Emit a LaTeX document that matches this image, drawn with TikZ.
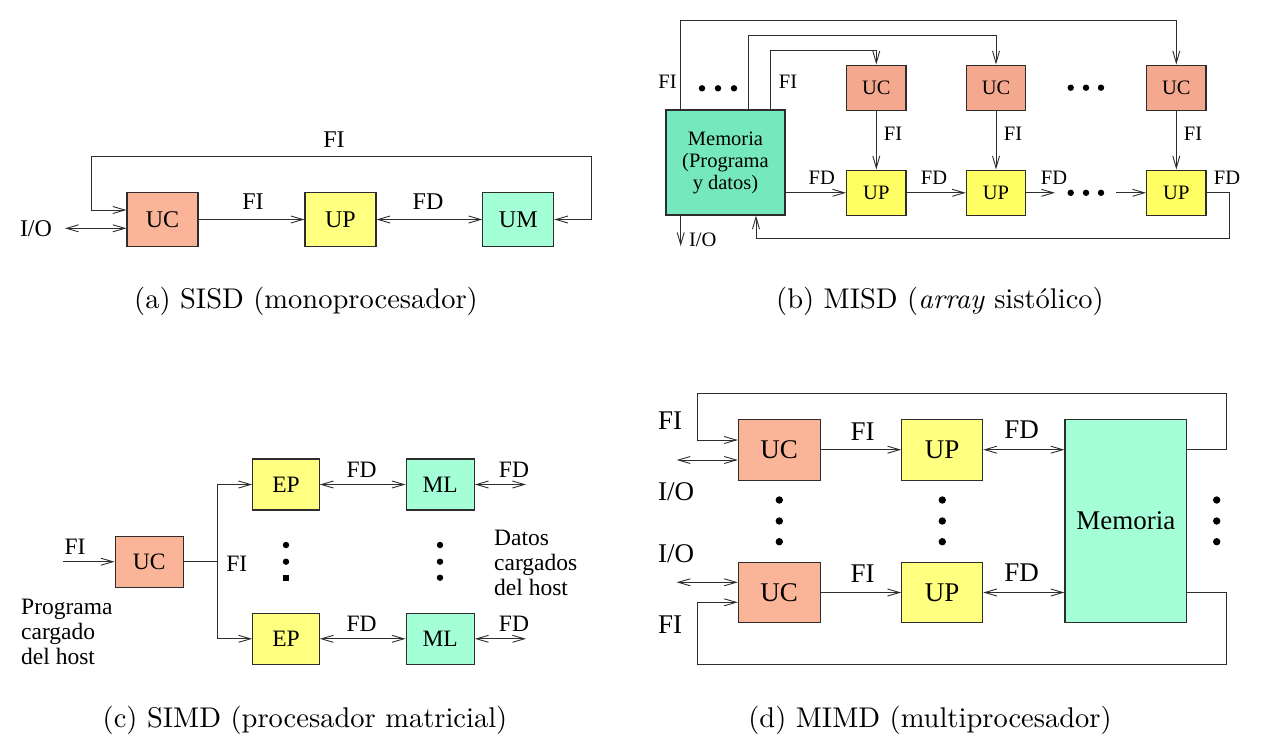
\documentclass[tikz,border=0pt]{standalone}
\usepackage{fontspec}
\newfontfamily\tms{Liberation Serif}
\newfontfamily\capfont{lmroman10-regular.otf}[ItalicFont=lmroman10-italic.otf]
\usetikzlibrary{arrows.meta}
\definecolor{inkc}{RGB}{45,45,45}
\definecolor{ucc}{RGB}{250,180,152}
\definecolor{upc}{RGB}{255,255,128}
\definecolor{umc}{RGB}{165,255,214}
\definecolor{ucb}{RGB}{244,168,142}
\definecolor{upb}{RGB}{255,255,100}
\definecolor{memb}{RGB}{118,232,190}
\begin{document}
\begin{tikzpicture}[x=1pt,y=-1pt,
  blk/.style={draw=inkc,line width=1.1pt,inner sep=0pt},
  fa/.style={font=\tms\fontsize{24}{28}\selectfont},
  fb/.style={font=\tms\fontsize{20.5}{22}\selectfont},
  fc/.style={font=\tms\fontsize{23.5}{25}\selectfont},
  fd/.style={font=\tms\fontsize{27}{30}\selectfont},
  lbl/.style={inner sep=0pt},
  wire/.style={draw=inkc,line width=0.9pt},
  arr/.style={wire,-{Straight Barb[length=12pt,width=7pt]}},
  darr/.style={wire,{Straight Barb[length=12pt,width=7pt]}-{Straight Barb[length=12pt,width=7pt]}},
  dot/.style={fill=black},
  captext/.style={inner sep=0pt,font=\capfont\fontsize{28.5}{32}\selectfont}]
\useasboundingbox[fill=white] (0,0) rectangle (1269,740);

% ---------------- (a) SISD ----------------
\begin{scope}[every node/.append style={fa}]
\node[blk,fill=ucc,minimum width=71pt,minimum height=54pt] (ucA) at (162.5,219.5) {UC};
\node[blk,fill=upc,minimum width=71pt,minimum height=54pt] (upA) at (340.5,219.5) {UP};
\node[blk,fill=umc,minimum width=71pt,minimum height=54pt] (umA) at (518.3,219.5) {UM};
\coordinate (rA) at (591,156.7);
\coordinate (lA) at (91,156.7);
\coordinate (ioA) at (65,228.3);
\draw[arr] (ucA) -- (upA);
\draw[darr] (upA) -- (umA);
\draw[darr] (umA.east) -| (rA) -- (lA) |- ([yshift=9.5pt]ucA.west);
\draw[darr] (ioA) -- (ioA -| ucA.west);
\node[lbl] (aFI1) at (334,140) {FI};
\node[lbl] (aFI2) at (253,201.7) {FI};
\node[lbl] (aFD) at (428,201.7) {FD};
\node[lbl] (aIO) at (36,228.3) {I/O};
\end{scope}
\node[captext] (capA) at (306,301) {(a) SISD (monoprocesador)};

% ---------------- (b) MISD ----------------
\begin{scope}[every node/.append style={fb}]
\node[blk,fill=memb,minimum width=119pt,minimum height=105pt,align=center] (memB) at (725.5,162.5) {Memoria\\(Programa\\y datos)};
\foreach \i/\x in {1/876.3,2/996,3/1176.3}{
  \node[blk,fill=ucb,minimum width=59.3pt,minimum height=45.5pt] (ucB\i) at (\x,87.8) {UC};
  \node[blk,fill=upb,minimum width=59.3pt,minimum height=45.5pt] (upB\i) at (\x,192.8) {UP};
  \draw[arr] (ucB\i) -- (upB\i);
}
\coordinate (o1) at (680.7,20);
\coordinate (o2) at (748.3,35);
\coordinate (o3) at (770,50.7);
\draw[arr] (o1 |- memB.north) -- (o1) -| (ucB3.north);
\draw[arr] (o2 |- memB.north) -- (o2) -| (ucB2.north);
\draw[arr] (o3 |- memB.north) -- (o3) -| (ucB1.north);
\draw[arr] (memB.east |- upB1.west) -- (upB1.west);
\draw[arr] (upB1) -- (upB2);
\coordinate (dB1) at (1055,192.8);
\coordinate (dB2) at (1116,192.8);
\draw[arr] (upB2) -- (dB1);
\draw[arr] (dB2) -- (upB3);
\coordinate (fbB) at (1229.3,238.3);
\coordinate (fmB) at (756,238.3);
\draw[arr] (upB3.east) -| (fbB) -- (fmB) -- (fmB |- memB.south);
\coordinate (ioB) at (680.7,246);
\draw[arr] (ioB |- memB.south) -- (ioB);
\foreach \x in {702,718,734} \fill[dot] (\x,88.3) circle (3.2pt);
\foreach \x in {1070.7,1086,1101} \fill[dot] (\x,87.7) circle (3.2pt);
\foreach \x in {1070.7,1086,1101} \fill[dot] (\x,192.8) circle (3.2pt);
\node[lbl] (bFIl) at (667.5,81.7) {FI};
\node[lbl] (bFIr) at (788,81.7) {FI};
\node[lbl] (bFI1) at (893,133.3) {FI};
\node[lbl] (bFI2) at (1013,133.3) {FI};
\node[lbl] (bFI3) at (1193,133.3) {FI};
\node[lbl] (bFD0) at (821.7,178.3) {FD};
\node[lbl] (bFD1) at (934,178.3) {FD};
\node[lbl] (bFD2) at (1054,178.3) {FD};
\node[lbl] (bFD3) at (1227,178.3) {FD};
\node[lbl] (bIO) at (702.7,240) {I/O};
\end{scope}
\node[captext] (capB) at (940,301) {(b) MISD (\textit{array} sistólico)};

% ---------------- (c) SIMD ----------------
\begin{scope}[every node/.append style={fc}]
\node[blk,fill=ucc,minimum width=68.3pt,minimum height=51.3pt] (ucC) at (149.2,561.7) {UC};
\node[blk,fill=upc,minimum width=66.6pt,minimum height=51pt] (epC1) at (286,484.5) {EP};
\node[blk,fill=upc,minimum width=66.6pt,minimum height=51pt] (epC2) at (286,638.8) {EP};
\node[blk,fill=umc,minimum width=68.3pt,minimum height=51pt] (mlC1) at (440.2,484.5) {ML};
\node[blk,fill=umc,minimum width=68.3pt,minimum height=51pt] (mlC2) at (440.2,638.8) {ML};
\coordinate (inC) at (63.3,561.7);
\coordinate (brC) at (217.3,561.7);
\coordinate (oC1) at (526,484.5);
\coordinate (oC2) at (526,638.8);
\draw[arr] (inC) -- (ucC);
\draw[wire] (ucC) -- (brC);
\draw[arr] (brC) |- (epC1);
\draw[arr] (brC) |- (epC2);
\draw[darr] (epC1) -- (mlC1);
\draw[darr] (epC2) -- (mlC2);
\draw[darr] (mlC1) -- (oC1);
\draw[darr] (mlC2) -- (oC2);
\foreach \y in {545,561.7} {\fill[dot] (286,\y) circle (3.2pt);}
\fill[dot] (283,574.7) rectangle (289,580.7);
\foreach \y in {545,561.7,577.7} {\fill[dot] (440,\y) circle (3.2pt);}
\node[lbl] (cFI0) at (75,546.7) {FI};
\node[lbl] (cFI1) at (236.7,563.3) {FI};
\node[lbl] (cFD1) at (361.7,470) {FD};
\node[lbl] (cFD2) at (361.7,623.5) {FD};
\node[lbl] (cFD3) at (514,470) {FD};
\node[lbl] (cFD4) at (514,623.5) {FD};
\node[lbl,anchor=west,align=left] (cDat) at (494,562.5) {Datos\\cargados\\del host};
\node[lbl,anchor=west,align=left] (cProg) at (21,632) {Programa\\cargado\\del host};
\end{scope}
\node[captext] (capC) at (305,720) {(c) SIMD (procesador matricial)};

% ---------------- (d) MIMD ----------------
\begin{scope}[every node/.append style={fd}]
\node[blk,fill=ucc,minimum width=81.7pt,minimum height=60.7pt] (ucD1) at (779.2,449.7) {UC};
\node[blk,fill=upc,minimum width=81pt,minimum height=60.7pt] (upD1) at (942.2,449.7) {UP};
\node[blk,fill=ucc,minimum width=81.7pt,minimum height=60.4pt] (ucD2) at (779.2,592.5) {UC};
\node[blk,fill=upc,minimum width=81pt,minimum height=60.4pt] (upD2) at (942.2,592.5) {UP};
\node[blk,fill=umc,minimum width=121.7pt,minimum height=203.4pt] (memD) at (1125.8,521) {Memoria};
\draw[arr] (ucD1) -- (upD1);
\draw[arr] (ucD2) -- (upD2);
\draw[darr] (upD1) -- (memD.west |- upD1);
\draw[darr] (upD2) -- (memD.west |- upD2);
\coordinate (tD) at (1226.7,393);
\coordinate (tlD) at (697.7,393);
\coordinate (bD) at (1226.7,664.3);
\coordinate (blD) at (697.7,664.3);
\draw[arr] (memD.east |- upD1) -| (tD) -- (tlD) |- ([yshift=9.7pt]ucD1.west);
\draw[arr] (memD.east |- upD2) -| (bD) -- (blD) |- ([yshift=-9.8pt]ucD2.west);
\coordinate (ioD1) at (676.7,460);
\coordinate (ioD2) at (676.7,582.3);
\draw[darr] (ioD1) -- (ioD1 -| ucD1.west);
\draw[darr] (ioD2) -- (ioD2 -| ucD2.west);
\foreach \y in {500,521,541.7} {\fill[dot] (779.3,\y) circle (3.7pt); \fill[dot] (942.3,\y) circle (3.7pt); \fill[dot] (1216.7,\y) circle (3.7pt);}
\node[lbl] (dFIa) at (670,421) {FI};
\node[lbl] (dIOa) at (676,491.7) {I/O};
\node[lbl] (dIOb) at (676,553.3) {I/O};
\node[lbl] (dFIb) at (670,625) {FI};
\node[lbl] (dFI1) at (862.7,431.7) {FI};
\node[lbl] (dFI2) at (862.7,573.3) {FI};
\node[lbl] (dFD1) at (1021.7,430) {FD};
\node[lbl] (dFD2) at (1021.7,572.7) {FD};
\end{scope}
\node[captext] (capD) at (930,720) {(d) MIMD (multiprocesador)};
\end{tikzpicture}
\end{document}
